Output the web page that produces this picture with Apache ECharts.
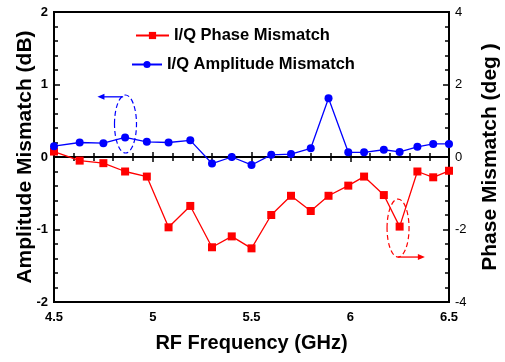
<!DOCTYPE html>
<html>
<head>
<meta charset="utf-8">
<script src="https://cdn.jsdelivr.net/npm/echarts@6/dist/echarts.min.js"></script>
<style>
  html, body { margin: 0; padding: 0; background: #fff; }
  #chart { width: 505px; height: 362px; }
</style>
</head>
<body>
<div id="chart"></div>
<script>
// frequency points (GHz)
const freq = [4.5, 4.63, 4.75, 4.86, 4.97, 5.08, 5.19, 5.30, 5.40, 5.50, 5.60,
  5.70, 5.80, 5.89, 5.99, 6.07, 6.17, 6.25, 6.34, 6.42, 6.5];
// I/Q amplitude mismatch (dB), left axis
const ampMismatch = [0.15, 0.2, 0.19, 0.27, 0.21, 0.2, 0.23, -0.09, 0.0, -0.11, 0.03,
  0.04, 0.12, 0.81, 0.065, 0.065, 0.1, 0.07, 0.14, 0.18, 0.18];
// I/Q phase mismatch (deg), right axis
const phaseMismatch = [0.15, -0.1, -0.17, -0.4, -0.54, -1.94, -1.35, -2.49, -2.19, -2.52, -1.6,
  -1.07, -1.49, -1.07, -0.79, -0.54, -1.05, -1.92, -0.4, -0.56, -0.38];

const FONT = 'Arial, "Liberation Sans", sans-serif';
const RED = '#ff0000';
const BLUE = '#0000ff';

const pair = (xs, ys) => xs.map((x, i) => [x, ys[i]]);

const chart = echarts.init(document.getElementById('chart'), null, { renderer: 'canvas' });

const tickStyle = { color: '#000', width: 1.5 };
const legendText = { fontFamily: FONT, fontWeight: 'bold', fontSize: 16.5, color: '#000' };

chart.setOption({
  animation: false,
  grid: {
    left: 54, right: 56, top: 12, bottom: 60,
    outerBoundsMode: 'none',
    show: true, borderColor: '#000', borderWidth: 2, backgroundColor: 'transparent'
  },
  legend: [
    { left: 135, top: 27, padding: 0, itemWidth: 33, itemHeight: 9, textStyle: legendText,
      data: ['I/Q Phase Mismatch'] },
    { left: 131, top: 56, padding: 0, itemWidth: 30, itemHeight: 9, textStyle: legendText,
      data: ['I/Q Amplitude Mismatch'] }
  ],
  xAxis: [
    {
      type: 'value', min: 4.5, max: 6.5, interval: 0.5,
      name: 'RF Frequency (GHz)', nameLocation: 'middle', nameGap: 31, nameMoveOverlap: false,
      nameTextStyle: { fontFamily: FONT, fontWeight: 'bold', fontSize: 20, color: '#000' },
      axisLine: { lineStyle: { color: '#000', width: 2 } },
      axisTick: { inside: true, length: 5, lineStyle: tickStyle },
      minorTick: { show: true, splitNumber: 5, length: 4, lineStyle: tickStyle },
      axisLabel: { margin: 9, fontFamily: FONT, fontWeight: 'bold', fontSize: 13, color: '#000' },
      splitLine: { show: false }
    },
    {
      type: 'value', position: 'top', min: 4.5, max: 6.5, interval: 0.5,
      axisLine: { lineStyle: { color: '#000', width: 2 } },
      axisTick: { inside: true, length: 5, lineStyle: tickStyle },
      minorTick: { show: true, splitNumber: 5, length: 4, lineStyle: tickStyle },
      axisLabel: { show: false },
      splitLine: { show: false }
    }
  ],
  yAxis: [
    {
      type: 'value', min: -2, max: 2, interval: 1,
      name: 'Amplitude Mismatch (dB)', nameLocation: 'middle', nameGap: 18, nameMoveOverlap: false,
      nameTextStyle: { fontFamily: FONT, fontWeight: 'bold', fontSize: 21, color: '#000' },
      axisLine: { show: true, lineStyle: { color: '#000', width: 2 } },
      axisTick: { inside: true, length: 6, lineStyle: tickStyle },
      minorTick: { show: true, splitNumber: 5, length: 4, lineStyle: tickStyle },
      axisLabel: { margin: 6, fontFamily: FONT, fontWeight: 'bold', fontSize: 13, color: '#000' },
      splitLine: { show: false }
    },
    {
      type: 'value', min: -4, max: 4, interval: 2, position: 'right',
      name: 'Phase Mismatch (deg )', nameLocation: 'middle', nameGap: 31, nameMoveOverlap: false,
      nameTextStyle: { fontFamily: FONT, fontWeight: 'bold', fontSize: 21, color: '#000' },
      axisLine: { show: true, lineStyle: { color: '#000', width: 2 } },
      axisTick: { inside: true, length: 6, lineStyle: tickStyle },
      minorTick: { show: true, splitNumber: 5, length: 4, lineStyle: tickStyle },
      axisLabel: { margin: 6, fontFamily: FONT, fontSize: 13, color: '#000' },
      splitLine: { show: false }
    }
  ],
  series: [
    {
      name: 'I/Q Phase Mismatch',
      type: 'line', yAxisIndex: 1,
      data: pair(freq, phaseMismatch),
      symbol: 'rect', symbolSize: 8,
      lineStyle: { color: RED, width: 1.3 },
      itemStyle: { color: RED }
    },
    {
      name: 'I/Q Amplitude Mismatch',
      type: 'line', yAxisIndex: 0,
      data: pair(freq, ampMismatch),
      symbol: 'circle', symbolSize: 8,
      lineStyle: { color: BLUE, width: 1.3 },
      itemStyle: { color: BLUE }
    }
  ]
});

// dashed ellipses + arrows that point each curve to its axis
function annotate() {
  const toPx = (yAxisIndex, pt) => chart.convertToPixel({ xAxisIndex: 0, yAxisIndex }, pt);
  const bc = toPx(0, [4.862, 0.455]);
  const ba0 = toPx(0, [4.85, 0.83]);
  const ba1 = toPx(0, [4.72, 0.83]);
  const rc = toPx(1, [6.242, -1.96]);
  const ra0 = toPx(1, [6.242, -2.76]);
  const ra1 = toPx(1, [6.378, -2.76]);

  const arrow = (from, to, color) => {
    const dir = Math.sign(to[0] - from[0]);
    return [
      { type: 'line', shape: { x1: from[0], y1: from[1], x2: to[0] - dir * 4, y2: to[1] },
        style: { stroke: color, lineWidth: 1.3 } },
      { type: 'polygon',
        shape: { points: [[to[0], to[1]], [to[0] - dir * 7, to[1] - 3], [to[0] - dir * 7, to[1] + 3]] },
        style: { fill: color } }
    ];
  };

  chart.setOption({
    graphic: [
      { type: 'ellipse', shape: { cx: bc[0], cy: bc[1], rx: 11, ry: 29 },
        style: { fill: 'none', stroke: BLUE, lineWidth: 1.2, lineDash: [5, 3] } },
      ...arrow(ba0, ba1, BLUE),
      { type: 'ellipse', shape: { cx: rc[0], cy: rc[1], rx: 11, ry: 29 },
        style: { fill: 'none', stroke: RED, lineWidth: 1.2, lineDash: [5, 3] } },
      ...arrow(ra0, ra1, RED)
    ]
  });
}
annotate();
</script>
</body>
</html>
